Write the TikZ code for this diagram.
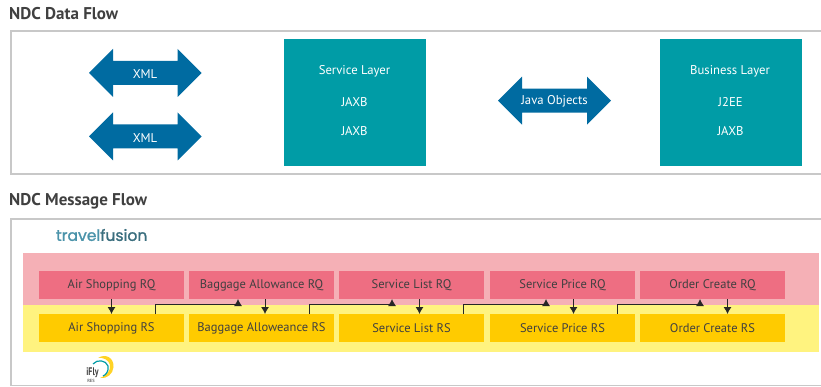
\documentclass[tikz,border=0pt]{standalone}
\usepackage{fontspec}
\usetikzlibrary{arrows.meta}
\setmainfont{PT Sans}
\newfontfamily\logofont[FakeBold=1.2]{Poppins}
\definecolor{framec}{HTML}{C8C8C8}
\definecolor{bluec}{HTML}{006BA1}
\definecolor{tealc}{HTML}{009CA6}
\definecolor{pinkband}{HTML}{F5B0B6}
\definecolor{pinkbox}{HTML}{EE6E82}
\definecolor{yelband}{HTML}{FFF37F}
\definecolor{yelbox}{HTML}{FFCB00}
\definecolor{darkt}{HTML}{404040}
\definecolor{logoa}{HTML}{4A93AA}
\definecolor{logob}{HTML}{3A6E7E}
\tikzset{
 frame/.style={draw=framec,line width=1.2pt},
 layerbox/.style={fill=tealc,minimum width=142pt,minimum height=127pt,inner sep=0pt,outer sep=0pt},
 wlabel/.style={text=white,font=\fontsize{12.7}{13}\selectfont,inner sep=0pt},
 heading/.style={text=darkt,font=\fontsize{17}{18}\bfseries\selectfont,anchor=west,inner sep=0pt},
 msg/.style={minimum width=145pt,minimum height=28pt,inner sep=0pt,outer sep=0pt,text=darkt,font=\fontsize{12.5}{14}\selectfont},
 rq/.style={msg,fill=pinkbox},
 rs/.style={msg,fill=yelbox},
 conn/.style={draw=black!85,line width=.9pt,-{Latex[length=7pt,width=8pt]}},
}
\newcommand{\dblarr}[3]{% left x, right x, centre y
 \fill[bluec] (#1,#3) -- ++(24,-24) -- ++(0,12) -- ({#2-24},{#3-12}) -- ++(0,-12) -- (#2,#3) -- ({#2-24},{#3+24}) -- ++(0,-12) -- ({#1+24},{#3+12}) -- ++(0,12) -- cycle;}
\begin{document}
\begin{tikzpicture}[x=1pt,y=-1pt]
\useasboundingbox (0,0) rectangle (821,387);
\fill[white] (0,0) rectangle (821,387);
\node[heading] (h1) at (9,14) {NDC Data Flow};
\node[heading] (h2) at (9,201) {NDC Message Flow};
\draw[frame] (821,31) -- (11,31) -- (11,174) -- (821,174);
\draw[frame] (821,219) -- (11,219) -- (11,385.5) -- (821,385.5);
\dblarr{89}{201.5}{73}
\dblarr{89}{201.5}{136.5}
\dblarr{498}{611}{100.7}
\node[wlabel] (x1) at (145,74) {XML};
\node[wlabel] (x2) at (145,138) {XML};
\node[wlabel] (jo) at (554.5,101) {Java Objects};
\node[layerbox] (sl) at (355,102.5) {};
\node[wlabel] (sl1) at (354.5,71) {Service Layer};
\node[wlabel] (sl2) at (354.5,102.5) {JAXB};
\node[wlabel] (sl3) at (354.5,131.5) {JAXB};
\node[layerbox] (bl) at (731,102.5) {};
\node[wlabel] (bl1) at (730,71) {Business Layer};
\node[wlabel] (bl2) at (730.5,102.5) {J2EE};
\node[wlabel] (bl3) at (730.5,131.5) {JAXB};
\fill[pinkband] (23,253) rectangle (819,305);
\fill[yelband] (23,305) rectangle (819,352);
\node[rq] (q1) at (111.5,285) {Air Shopping RQ};
\node[rq] (q2) at (261.5,285) {\raisebox{1pt}{Baggage Allowance RQ}};
\node[rq] (q3) at (411.5,285) {Service List RQ};
\node[rq] (q4) at (562.5,285) {Service Price RQ};
\node[rq] (q5) at (712.5,285) {Order Create RQ};
\node[rs] (s1) at (111.5,328) {Air Shopping RS};
\node[rs] (s2) at (261.5,328) {Baggage Alloweance RS};
\node[rs] (s3) at (411.5,328) {Service List RS};
\node[rs] (s4) at (562.5,328) {Service Price RS};
\node[rs] (s5) at (712.5,328) {Order Create RS};
\draw[conn] (q1.south) -- (s1.north);
\draw[conn] ([xshift=3.5pt]q2.south) -- ([xshift=3.5pt]s2.north);
\draw[conn] ([xshift=8pt]q3.south) -- ([xshift=8pt]s3.north);
\draw[conn] ([xshift=11pt]q4.south) -- ([xshift=11pt]s4.north);
\draw[conn] ([xshift=15pt]q5.south) -- ([xshift=15pt]s5.north);
\draw[conn] ([xshift=44pt]s1.north) -- ++(0,-10) -| ([xshift=-23.5pt]q2.south);
\draw[conn] ([xshift=48pt]s2.north) -- ++(0,-10) -| ([xshift=-19.5pt]q3.south);
\draw[conn] ([xshift=52pt]s3.north) -- ++(0,-10) -| ([xshift=-16.5pt]q4.south);
\draw[conn] ([xshift=55pt]s4.north) -- ++(0,-10) -| ([xshift=-12.5pt]q5.south);
\node[inner sep=0pt,font=\logofont\fontsize{15.6}{17}\selectfont] (tf) at (101.7,235) {\textcolor{logoa}{travel}\textcolor{logob}{fusion}};
% iFly crescent marks
\fill[yelbox!85!white] (98,358) .. controls (106,353) and (114,358) .. (113.5,367) .. controls (113,374) and (107,379) .. (100,378) .. controls (106,376) and (111,371) .. (110,365) .. controls (109,360) and (103,357) .. (98,358) -- cycle;
\draw[tealc,line width=1.2pt] (93,364) .. controls (97,359) and (106,360) .. (108,366) .. controls (109,371) and (106,375) .. (103,376);
\node[inner sep=0pt,text=darkt,font=\fontsize{11}{11}\bfseries\selectfont,transform shape,xscale=.72] (ifly) at (92.5,373) {iFly};
\node[inner sep=0pt,text=darkt!70,font=\fontsize{4.5}{5}\bfseries\selectfont] (res) at (91,381) {RES};
\end{tikzpicture}
\end{document}
